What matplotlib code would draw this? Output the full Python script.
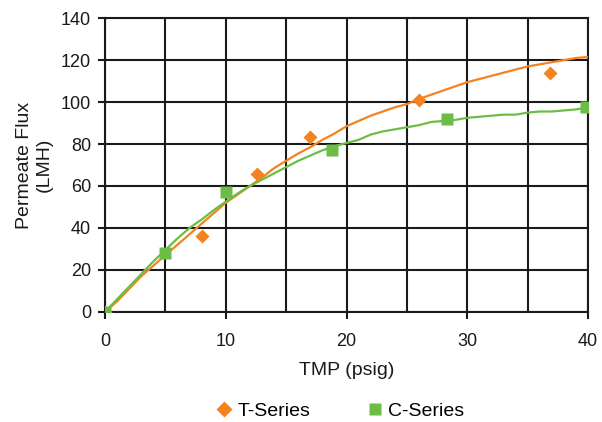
import matplotlib.pyplot as plt
from matplotlib.ticker import MultipleLocator
from matplotlib.lines import Line2D

plt.rcParams['font.family'] = ['Liberation Sans', 'DejaVu Sans']

orange = '#F5821F'
green = '#6CBD45'

# measured points
t_x = [0, 8.0, 12.6, 17.0, 26.0, 36.8]
t_y = [0, 36.2, 65.5, 83.5, 101.2, 113.8]
c_x = [0, 5.0, 10.0, 18.8, 28.3, 39.8]
c_y = [0, 28.0, 57.0, 77.0, 91.7, 97.5]

# fitted curves
fit_x = list(range(0, 41))
t_fit = [0, 5, 11, 17, 22, 27, 32, 37, 42, 47, 52, 56, 60, 64, 68.5, 72, 75.5,
         78.5, 82, 85, 88.5, 91, 93.5, 95.5, 97.5, 99, 101.5, 103.5, 105.5,
         107.5, 109.5, 111, 112.5, 114, 115.5, 117, 118, 119, 120, 121, 121.5]
c_fit = [0, 6, 12, 18, 24, 29.5, 35, 40, 44, 48.5, 52.5, 56.5, 60, 63, 66, 69,
         72, 74.5, 77, 79, 80.5, 82, 84.5, 86, 87, 88, 89, 90.5, 91, 91.5, 92.5,
         93, 93.5, 94, 94, 95, 95.5, 95.5, 96, 96.5, 97.5]

fig = plt.figure(figsize=(6.02, 4.22), dpi=100)
ax = fig.add_axes([0.1744, 0.261, 0.8026, 0.696])

ax.plot(fit_x, t_fit, color=orange, lw=1.6, zorder=3)
ax.plot(fit_x, c_fit, color=green, lw=1.6, zorder=3)
ax.plot(t_x, t_y, 'D', color=orange, ms=6.8, mec='none', zorder=4)
ax.plot(c_x, c_y, 's', color=green, ms=8.6, mec='none', zorder=4)

ax.set_xlim(0, 40)
ax.set_ylim(0, 140)
ax.xaxis.set_major_locator(MultipleLocator(10))
ax.xaxis.set_minor_locator(MultipleLocator(5))
ax.yaxis.set_major_locator(MultipleLocator(20))
ax.grid(True, which='both', color='#1a1a1a', lw=1.5)
ax.set_axisbelow(True)
for s in ax.spines.values():
    s.set_color('#1a1a1a')
    s.set_linewidth(1.5)
ax.tick_params(which='major', direction='out', length=5, width=1.5,
               color='#1a1a1a', labelsize=13, labelcolor='#1a1a1a')
ax.tick_params(axis='x', pad=10)
ax.tick_params(axis='y', pad=5)
ax.tick_params(which='minor', length=0)

ax.set_xlabel('TMP (psig)', fontsize=14, color='#1a1a1a', labelpad=9)
ax.set_ylabel('Permeate Flux\n(LMH)', fontsize=14, color='#1a1a1a', labelpad=6)

handles = [Line2D([], [], marker='D', color=orange, ls='none', ms=8, mec='none'),
           Line2D([], [], marker='s', color=green, ls='none', ms=8.5, mec='none')]
fig.legend(handles, ['T-Series', 'C-Series'], loc='center', ncol=2,
           bbox_to_anchor=(0.564, 0.026), frameon=False, fontsize=14,
           handletextpad=0.2, columnspacing=2.8, handlelength=1.0)

fig.savefig('out.png', dpi=100)
